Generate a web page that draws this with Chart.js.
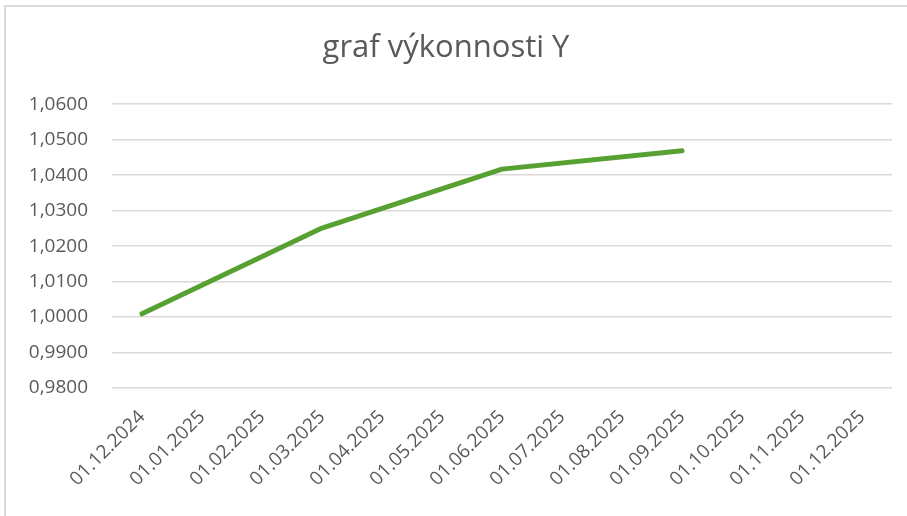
<!DOCTYPE html>
<html>
<head>
<meta charset="utf-8">
<script src="https://cdn.jsdelivr.net/npm/chart.js@4"></script>
<style>
  html, body { margin: 0; padding: 0; background: #fff; }
  canvas { display: block; }
</style>
</head>
<body>
<canvas id="perfChart" width="907" height="516"></canvas>
<script>
const dates = ["01.12.2024", "01.01.2025", "01.02.2025", "01.03.2025", "01.04.2025", "01.05.2025",
    "01.06.2025", "01.07.2025", "01.08.2025", "01.09.2025", "01.10.2025", "01.11.2025", "01.12.2025"];
// values only at quarter ends, other months empty
const performance = [1.0009, null, null, 1.0251, null, null, 1.0417, null, null, 1.0469, null, null, null];
const yMin = 0.98;
const yMax = 1.06;
const yStep = 0.01;

const textColor = "#595959";
const gridColor = "#d9d9d9";

// thin grey frame on top and left, like the exported chart
const framePlugin = {
    id: "frame",
    beforeDraw(chart) {
        const c = chart.ctx;
        c.save();
        c.strokeStyle = gridColor;
        c.lineWidth = 2;
        c.beginPath();
        c.moveTo(5, 516);
        c.lineTo(5, 6);
        c.lineTo(907, 6);
        c.stroke();
        c.restore();
    }
};

new Chart(document.getElementById("perfChart"), {
    type: "line",
    data: {
        labels: dates,
        datasets: [{
            label: "Y",
            data: performance,
            borderColor: "#57a132",
            borderWidth: 5,
            borderCapStyle: "round",
            borderJoinStyle: "round",
            pointRadius: 0,
            spanGaps: true,
            tension: 0
        }]
    },
    options: {
        responsive: false,
        animation: false,
        layout: { padding: { left: 0, right: 15, top: 0, bottom: 0 } },
        plugins: {
            legend: { display: false },
            tooltip: { enabled: false },
            title: {
                display: true,
                text: "graf výkonnosti Y",
                color: textColor,
                font: { family: "Open Sans", size: 31, weight: "normal" },
                padding: { top: 30, bottom: 37 }
            }
        },
        scales: {
            x: {
                offset: true,
                grid: { display: false },
                border: { display: false },
                ticks: {
                    color: textColor,
                    font: { family: "Open Sans", size: 19 },
                    minRotation: 45,
                    maxRotation: 45,
                    autoSkip: false,
                    padding: 10
                },
                afterFit(scale) { scale.height = 128; }
            },
            y: {
                min: yMin,
                max: yMax,
                grid: { color: gridColor, lineWidth: 1.5, drawTicks: false },
                border: { display: false },
                ticks: {
                    stepSize: yStep,
                    color: textColor,
                    font: { family: "Open Sans", size: 19 },
                    padding: 24,
                    callback: v => v.toFixed(4).replace(".", ",")
                },
                afterFit(scale) { scale.width = 112; }
            }
        }
    },
    plugins: [framePlugin]
});
</script>
</body>
</html>
